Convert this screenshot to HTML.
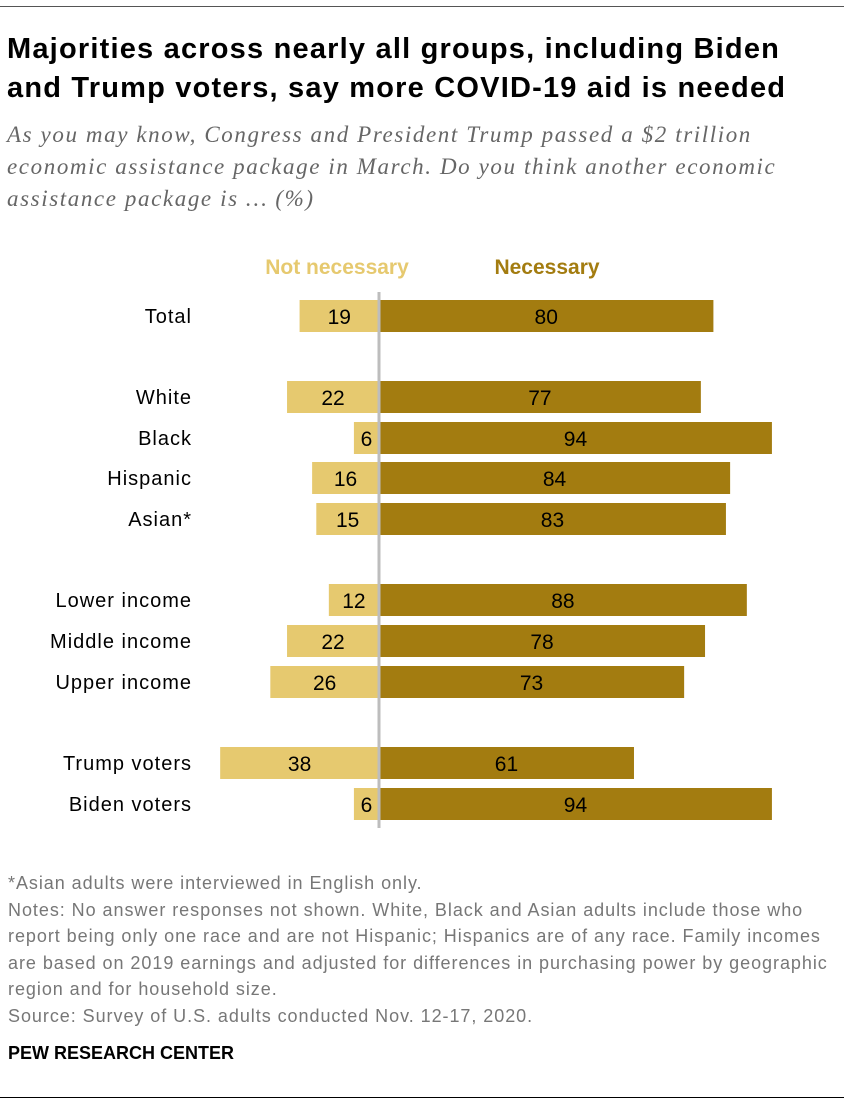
<!DOCTYPE html>
<html><head><meta charset="utf-8"><style>
body{margin:0;background:#fff;width:844px;height:1106px;position:relative;overflow:hidden;font-family:"Liberation Sans",sans-serif}
.abs{position:absolute}
.title{left:7px;top:30px;font-size:29px;font-weight:bold;line-height:39px;color:#000;letter-spacing:1.2px;white-space:nowrap}
.sub{left:7px;top:119px;font-family:"Liberation Serif",serif;font-style:italic;font-size:23px;line-height:32px;color:#666;letter-spacing:1.6px;white-space:nowrap}
.foot{left:8px;top:870px;font-family:"Liberation Sans",sans-serif;font-size:18px;line-height:26.5px;color:#777;white-space:nowrap;letter-spacing:0.95px}
.pew{left:8px;top:1043px;font-family:"Liberation Sans",sans-serif;font-weight:bold;font-size:18px;color:#000}
</style></head><body>
<div class="abs" style="left:0;top:6px;width:844px;height:1px;background:#555"></div>
<div class="abs title">Majorities across nearly all groups, including Biden<br>and Trump voters, say more COVID-19 aid is needed</div>
<div class="abs sub">As you may know, Congress and President Trump passed a $2 trillion<br>economic assistance package in March. Do you think another economic<br>assistance package is … (%)</div>
<svg class="abs" style="left:0;top:0" width="844" height="860" id="chart"></svg>
<div class="abs foot">*Asian adults were interviewed in English only.<br>Notes: No answer responses not shown. White, Black and Asian adults include those who<br>report being only one race and are not Hispanic; Hispanics are of any race. Family incomes<br>are based on 2019 earnings and adjusted for differences in purchasing power by geographic<br>region and for household size.<br>Source: Survey of U.S. adults conducted Nov. 12-17, 2020.</div>
<div class="abs pew">PEW RESEARCH CENTER</div>
<div class="abs" style="left:0;top:1097px;width:844px;height:1px;background:#000"></div>
<script>
const categories=["Total","White","Black","Hispanic","Asian*","Lower income","Middle income","Upper income","Trump voters","Biden voters"];
const notNecessary=[19,22,6,16,15,12,22,26,38,6];
const necessary=[80,77,94,84,83,88,78,73,61,94];
const rowY=[316,397,438,478,519,600,641,682,763,804];
const svg=document.getElementById('chart');
const NS='http://www.w3.org/2000/svg';
const cx=379, scale=4.18, bh=32;
function x(v){return v*scale;}
function mk(t,a){const e=document.createElementNS(NS,t);for(const k in a)e.setAttribute(k,a[k]);svg.appendChild(e);return e;}
function txt(s,a){const e=mk('text',a);e.textContent=s;return e;}
const h1=txt('Not necessary',{x:337,y:274,'text-anchor':'middle','font-size':21,'font-weight':'bold',fill:'#e6c96f','font-family':'Liberation Sans, sans-serif'});


const h2=txt('Necessary',{x:547,y:274,'text-anchor':'middle','font-size':21,'font-weight':'bold',fill:'#a37c10','font-family':'Liberation Sans, sans-serif'});


categories.forEach((c,i)=>{
  const y=rowY[i];
  const l=txt(c,{x:192,y:y+7,'text-anchor':'end','font-size':20,'letter-spacing':1,fill:'#000'});
  
  
  const wn=x(notNecessary[i]);
  const r1=mk('rect',{x:cx-wn,y:y-bh/2,width:wn,height:bh,fill:'#e6c96f'});
  
  
  const t1=txt(notNecessary[i],{x:cx-wn/2,y:y+8,'text-anchor':'middle','font-size':21,fill:'#000'});
  
  
  const wp=x(necessary[i]);
  const r2=mk('rect',{x:cx,y:y-bh/2,width:wp,height:bh,fill:'#a37c10'});
  
  
  const t2=txt(necessary[i],{x:cx+wp/2,y:y+8,'text-anchor':'middle','font-size':21,fill:'#000'});
  
  
});
const ax=mk('rect',{x:cx-1.5,y:292,width:3,height:536,fill:'#bdbdbd'});


</script>
</body></html>
